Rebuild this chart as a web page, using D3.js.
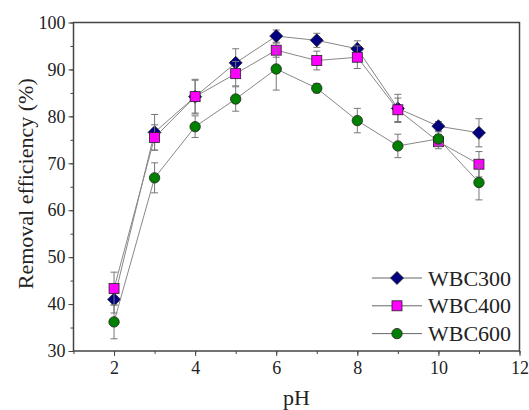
<!DOCTYPE html>
<html>
<head>
<meta charset="utf-8">
<title>Removal efficiency vs pH</title>
<script src="https://d3js.org/d3.v7.min.js"></script>
<style>
  body { margin: 0; background: #fff; }
  svg, svg text { font-family: 'Liberation Serif', 'DejaVu Serif', 'Times New Roman', Times, serif !important; }
</style>
</head>
<body>
<div id="chart"></div>
<script>
// data
const pH = [2, 3, 4, 5, 6, 7, 8, 9, 10, 11];
const wbc300 = [41.0, 76.6, 84.2, 91.4, 97.1, 96.2, 94.4, 81.7, 77.9, 76.5];
const wbc300Err = [2.9, 3.8, 3.5, 3.0, 1.3, 1.5, 1.7, 3.0, 1.0, 3.0];
const wbc400 = [43.3, 75.5, 84.2, 89.1, 94.1, 91.9, 92.6, 81.4, 74.6, 69.8];
const wbc400Err = [3.5, 2.7, 3.7, 2.6, 1.5, 2.0, 2.4, 2.5, 1.5, 2.7];
const wbc600 = [36.2, 66.9, 77.8, 83.7, 90.1, 86.0, 79.1, 73.7, 75.2, 65.9];
const wbc600Err = [3.6, 3.2, 2.3, 2.6, 4.5, 1.0, 2.6, 2.5, 1.5, 3.7];
const names = ["WBC300", "WBC400", "WBC600"];
const xTicks = [2, 4, 6, 8, 10, 12];
const yTicks = [30, 40, 50, 60, 70, 80, 90, 100];

const W = 529, H = 410;
const m = {left: 73.5, top: 22.5, right: 9.5, bottom: 59};
const iw = W - m.left - m.right, ih = H - m.top - m.bottom;
const FONT = "'Liberation Serif', 'DejaVu Serif', serif";

const svg = d3.select("#chart").append("svg").attr("width", W).attr("height", H);
const g = svg.append("g").attr("transform", `translate(${m.left},${m.top})`);

const x = d3.scaleLinear().domain([1, 12]).range([0, iw]);
const y = d3.scaleLinear().domain([30, 100]).range([ih, 0]);

// minor ticks first
g.append("g").attr("transform", `translate(0,${ih})`)
  .call(d3.axisBottom(x).tickValues(d3.range(1, 13)).tickSize(3).tickFormat(""))
  .call(a => a.select(".domain").remove());
g.append("g")
  .call(d3.axisLeft(y).tickValues(d3.range(30, 101, 5)).tickSize(3).tickFormat(""))
  .call(a => a.select(".domain").remove());

const xAxis = g.append("g").attr("transform", `translate(0,${ih})`)
  .call(d3.axisBottom(x).tickValues(xTicks).tickSize(5).tickPadding(5));
const yAxis = g.append("g")
  .call(d3.axisLeft(y).tickValues(yTicks).tickSize(5).tickPadding(3));
[xAxis, yAxis].forEach(a => {
  a.attr("font-family", FONT);
  a.select(".domain").remove();
  a.selectAll("text").attr("font-size", 18).attr("fill", "#222");
});
g.selectAll(".tick line").attr("stroke", "#444");

// frame
g.append("rect").attr("width", iw).attr("height", ih)
  .attr("fill", "none").attr("stroke", "#444").attr("stroke-width", 1.5);

const series = [
  {name: names[0], v: wbc300, e: wbc300Err, color: "#000080", shape: "diamond"},
  {name: names[1], v: wbc400, e: wbc400Err, color: "#ff00ff", shape: "square"},
  {name: names[2], v: wbc600, e: wbc600Err, color: "#008000", shape: "circle"}
];

function marker(sel, s) {
  if (s.shape === "diamond") {
    sel.append("path").attr("d", "M0,-6.5L6.5,0L0,6.5L-6.5,0Z");
  } else if (s.shape === "square") {
    sel.append("rect").attr("x", -5).attr("y", -5).attr("width", 10).attr("height", 10);
  } else {
    sel.append("circle").attr("r", 5.2);
  }
  sel.selectAll("path,rect,circle").attr("fill", s.color)
    .attr("stroke", "#222").attr("stroke-width", 0.8);
}

const line = d3.line().x((d, i) => x(pH[i])).y(d => y(d));

series.forEach(s => {
  const sg = g.append("g");
  sg.append("path").datum(s.v).attr("d", line)
    .attr("fill", "none").attr("stroke", "#888").attr("stroke-width", 1);

  const eb = sg.selectAll(".eb").data(s.v).join("g")
    .attr("stroke", "#777").attr("stroke-width", 1);
  eb.append("line")
    .attr("x1", (d, i) => x(pH[i])).attr("x2", (d, i) => x(pH[i]))
    .attr("y1", (d, i) => y(d + s.e[i])).attr("y2", (d, i) => y(d - s.e[i]));
  eb.append("line")
    .attr("x1", (d, i) => x(pH[i]) - 3.5).attr("x2", (d, i) => x(pH[i]) + 3.5)
    .attr("y1", (d, i) => y(d + s.e[i])).attr("y2", (d, i) => y(d + s.e[i]));
  eb.append("line")
    .attr("x1", (d, i) => x(pH[i]) - 3.5).attr("x2", (d, i) => x(pH[i]) + 3.5)
    .attr("y1", (d, i) => y(d - s.e[i])).attr("y2", (d, i) => y(d - s.e[i]));

  sg.selectAll(".pt").data(s.v).join("g")
    .attr("transform", (d, i) => `translate(${x(pH[i])},${y(d)})`)
    .each(function() { marker(d3.select(this), s); });
});

// legend
const lg = svg.append("g").attr("transform", "translate(372,278)");
series.forEach((s, i) => {
  const row = lg.append("g").attr("transform", `translate(0,${i * 27.8})`);
  row.append("line").attr("x1", 0).attr("x2", 50)
    .attr("stroke", "#666").attr("stroke-width", 1);
  const mk = row.append("g").attr("transform", "translate(25,0)");
  marker(mk, s);
  row.append("text").attr("x", 56).attr("y", 7.5).attr("font-family", FONT)
    .attr("font-size", 22).attr("fill", "#222").text(s.name);
});

// axis titles
svg.append("text").attr("x", m.left + iw / 2).attr("y", 405).attr("font-family", FONT)
  .attr("text-anchor", "middle").attr("font-size", 22).attr("fill", "#222").text("pH");
svg.append("text").attr("font-family", FONT)
  .attr("transform", `translate(33,${m.top + ih / 2 - 3}) rotate(-90)`)
  .attr("text-anchor", "middle").attr("font-size", 22).attr("fill", "#222")
  .text("Removal efficiency (%)");
</script>
</body>
</html>
